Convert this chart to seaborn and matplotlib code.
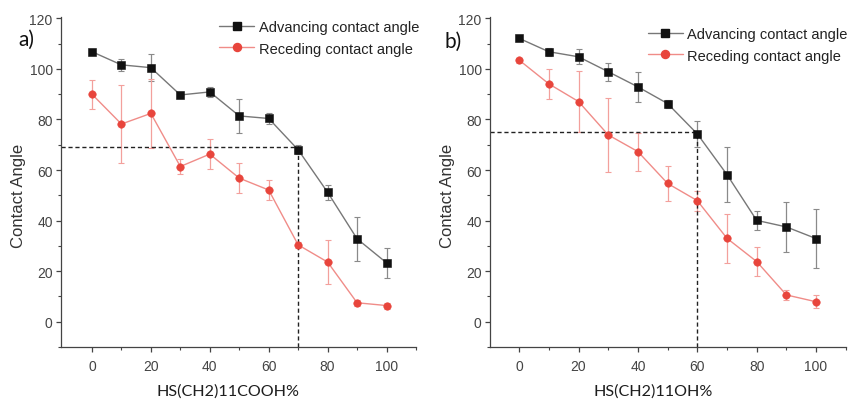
import numpy as np
import pandas as pd
import matplotlib
matplotlib.use("Agg")
import matplotlib.pyplot as plt
import seaborn as sns

# Composition (% of the functional thiol in the mixed monolayer)
percent = [0, 10, 20, 30, 40, 50, 60, 70, 80, 90, 100]

# Panel a: HS(CH2)11COOH
cooh_adv = [106.8, 101.6, 100.5, 89.7, 90.9, 81.4, 80.4, 68.0, 51.2, 32.8, 23.3]
cooh_adv_err = [1.0, 2.3, 5.3, 1.2, 2.0, 6.6, 2.0, 1.8, 3.0, 8.7, 6.0]
cooh_rec = [90.0, 78.2, 82.4, 61.4, 66.3, 56.8, 52.1, 30.4, 23.6, 7.5, 6.4]
cooh_rec_err = [5.8, 15.5, 13.5, 3.0, 6.0, 5.8, 4.0, 1.2, 8.7, 1.2, 1.2]
cooh_mark = (70, 69.2)

# Panel b: HS(CH2)11OH
oh_adv = [112.1, 106.8, 104.8, 98.9, 92.9, 86.3, 74.3, 58.2, 40.1, 37.5, 32.9]
oh_adv_err = [1.0, 1.5, 3.0, 3.6, 6.0, 1.6, 5.0, 10.8, 3.7, 10.0, 11.8]
oh_rec = [103.5, 94.1, 87.1, 73.9, 67.3, 54.7, 47.9, 33.0, 23.8, 10.6, 7.9]
oh_rec_err = [1.0, 5.9, 12.0, 14.6, 7.5, 7.0, 4.0, 9.7, 5.8, 2.0, 2.5]
oh_mark = (60, 75.2)

series_names = ["Advancing contact angle", "Receding contact angle"]
panel_tags = ["a)", "b)"]
x_titles = ["HS(CH2)11COOH%", "HS(CH2)11OH%"]

sns.set_style("ticks")
plt.rcParams["font.family"] = ["Liberation Sans", "DejaVu Sans"]

fig = plt.figure(figsize=(8.5, 4.02), dpi=100)
ax_a = fig.add_axes([0.0718, 0.1343, 0.4176, 0.8207])
ax_b = fig.add_axes([0.5765, 0.1343, 0.4185, 0.8207])

adv_color = "#111111"
adv_line = "#777777"
rec_color = "#e8453c"
rec_line = "#f08c88"

panels = [
    (ax_a, cooh_adv, cooh_adv_err, cooh_rec, cooh_rec_err, cooh_mark,
     (-10.5, 110), (1.025, 1.008), 0.47),
    (ax_b, oh_adv, oh_adv_err, oh_rec, oh_rec_err, oh_mark,
     (-9.8, 110), (1.022, 0.987), 0.458),
]

for i, (ax, adv, adv_err, rec, rec_err, mark, xlim, leg_anchor, xlab_x) in enumerate(panels):
    df = pd.DataFrame({
        "percent": percent * 2,
        "angle": adv + rec,
        "series": [series_names[0]] * len(percent) + [series_names[1]] * len(percent),
    })
    # error bars first so markers sit on top
    ax.errorbar(percent, adv, yerr=adv_err, fmt="none", ecolor="#8a8a8a",
                elinewidth=0.9, capsize=2.2, capthick=0.8, zorder=1)
    ax.errorbar(percent, rec, yerr=rec_err, fmt="none", ecolor="#f3a09c",
                elinewidth=0.9, capsize=2.2, capthick=0.8, zorder=1)
    sns.lineplot(data=df, x="percent", y="angle", hue="series", style="series",
                 markers={series_names[0]: "s", series_names[1]: "o"},
                 dashes=False, palette={series_names[0]: adv_line, series_names[1]: rec_line},
                 linewidth=1.0, markersize=5.4, markeredgewidth=0.4,
                 ax=ax, legend=False, zorder=3)
    # recolor markers so they stand out from the connecting lines
    lines = ax.get_lines()[-2:]
    lines[0].set_markerfacecolor(adv_color)
    lines[0].set_markeredgecolor(adv_color)
    lines[1].set_markerfacecolor(rec_color)
    lines[1].set_markeredgecolor(rec_color)

    # dashed guide to the crossover point
    mx, my = mark
    ax.plot([xlim[0], mx], [my, my], ls=(0, (3, 2)), color="#222222", lw=1.0, zorder=2)
    ax.plot([mx, mx], [-10, my], ls=(0, (3, 2)), color="#222222", lw=1.0, zorder=2)

    ax.set_xlim(*xlim)
    ax.set_ylim(-10, 120.5)
    ax.set_xticks([0, 20, 40, 60, 80, 100])
    ax.set_xticks([10, 30, 50, 70, 90, 110], minor=True)
    ax.set_yticks([0, 20, 40, 60, 80, 100, 120])
    ax.set_yticks([-10, 10, 30, 50, 70, 90, 110], minor=True)
    ax.tick_params(axis="both", which="major", length=3.5, width=0.9, color="#444444",
                   labelsize=10, labelcolor="#444444")
    ax.tick_params(axis="x", which="major", pad=5)
    ax.tick_params(axis="y", which="major", pad=2.5)
    ax.tick_params(axis="both", which="minor", length=2.5, width=0.8, color="#444444")
    for side in ("top", "right"):
        ax.spines[side].set_visible(False)
    for side in ("left", "bottom"):
        ax.spines[side].set_color("#444444")
        ax.spines[side].set_linewidth(0.9)

    ax.set_xlabel(x_titles[i], fontsize=11.6, family=["Lato", "DejaVu Sans"],
                  color="#1e1e1e")
    ax.xaxis.set_label_coords(xlab_x, -0.11)
    ax.set_ylabel("Contact Angle", fontsize=12, color="#333333")
    ax.yaxis.set_label_coords(-0.098, 0.46)

    handles = [
        plt.Line2D([], [], color=adv_line, lw=1.0, marker="s", markersize=5.4,
                   markerfacecolor=adv_color, markeredgecolor=adv_color),
        plt.Line2D([], [], color=rec_line, lw=1.0, marker="o", markersize=5.8,
                   markerfacecolor=rec_color, markeredgecolor=rec_color),
    ]
    leg = ax.legend(handles, series_names, loc="upper right",
                    bbox_to_anchor=leg_anchor, frameon=False, fontsize=10.5,
                    handlelength=2.4, handletextpad=0.3, labelspacing=0.5,
                    borderaxespad=0.0)
    for t in leg.get_texts():
        t.set_color("#222222")

fig.text(18 / 850, 1 - 40 / 402, panel_tags[0], fontsize=15, family=["Lato", "DejaVu Sans"],
         color="#111111", va="center", ha="left")
fig.text(444 / 850, 1 - 42 / 402, panel_tags[1], fontsize=15, family=["Lato", "DejaVu Sans"],
         color="#111111", va="center", ha="left")

fig.savefig("out.png", dpi=100)
